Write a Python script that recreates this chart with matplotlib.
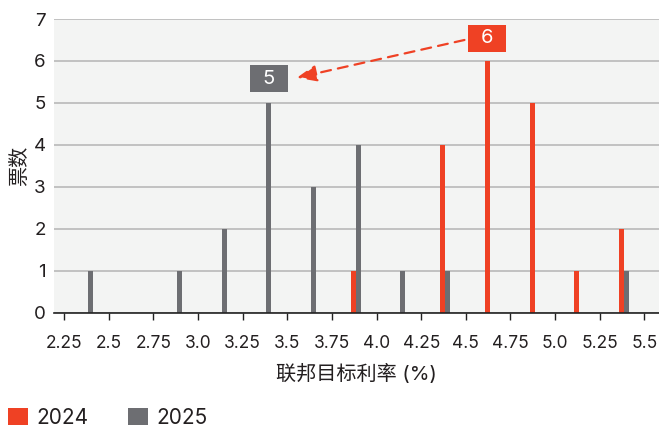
import matplotlib
matplotlib.use("Agg")
import matplotlib.pyplot as plt
from matplotlib.patches import Rectangle, Patch, FancyArrowPatch

plt.rcParams['font.family'] = ['Inter', 'Noto Sans CJK SC', 'DejaVu Sans']

# ---- data ----
bins = [2.375, 2.625, 2.875, 3.125, 3.375, 3.625, 3.875, 4.125, 4.375, 4.625, 4.875, 5.125, 5.375]
votes_2024 = [0, 0, 0, 0, 0, 0, 1, 0, 4, 6, 5, 1, 2]
votes_2025 = [1, 0, 1, 2, 5, 3, 4, 1, 1, 0, 0, 0, 1]
series_labels = ["2024", "2025"]
xtick_values = [2.25, 2.5, 2.75, 3.0, 3.25, 3.5, 3.75, 4.0, 4.25, 4.5, 4.75, 5.0, 5.25, 5.5]
xtick_labels = ["2.25", "2.5", "2.75", "3.0", "3.25", "3.5", "3.75", "4.0", "4.25", "4.5", "4.75", "5.0", "5.25", "5.5"]
ytick_values = [0, 1, 2, 3, 4, 5, 6, 7]
xlabel = "联邦目标利率 (%)"
ylabel = "票数"

RED = "#EF4124"
GRAY = "#6D6E72"
BG = "#F3F4F3"
GRID = "#BDBDBD"
TXT = "#231F20"

W, H = 659, 428
fig = plt.figure(figsize=(W / 100, H / 100), dpi=100)
ax = fig.add_axes([54 / W, 1 - 312.7 / H, (659 - 54) / W, (312.7 - 19) / H])
ax.set_facecolor(BG)

bw = 0.028
off_r = -0.004
off_g = 0.022
x_r = [b + off_r for b in bins]
x_g = [b + off_g for b in bins]
ax.bar(x_r, votes_2024, width=bw, color=RED, zorder=3, linewidth=0)
ax.bar(x_g, votes_2025, width=bw, color=GRAY, zorder=3, linewidth=0)

ax.set_xlim(2.194, 5.5815)
ax.set_ylim(0, 7)
ax.set_xticks(xtick_values)
ax.set_xticklabels(xtick_labels)
ax.set_yticks(ytick_values)
ax.yaxis.grid(True, color=GRID, linewidth=1.3, zorder=0)
ax.set_axisbelow(True)
for s in ["left", "right", "top"]:
    ax.spines[s].set_visible(False)
ax.spines["bottom"].set_color("#222222")
ax.spines["bottom"].set_linewidth(1.2)
ax.spines["bottom"].set_zorder(4)
ax.tick_params(axis="x", length=5, width=1, color="#222222", direction="out",
               pad=11, labelsize=12.5, labelcolor=TXT)
ax.tick_params(axis="y", length=0, pad=6, labelsize=13.5, labelcolor=TXT)
ax.set_xlabel(xlabel, fontsize=14.5, color=TXT, labelpad=9)
ax.set_ylabel(ylabel, fontsize=14.5, color=TXT, labelpad=3)

# ---- annotation boxes ----
px_x = 178.6  # pixels per x unit
px_y = 41.96  # pixels per y unit
bwid = 38 / px_x
bhei = 27 / px_y
i6 = votes_2024.index(max(votes_2024))
i5 = votes_2025.index(max(votes_2025))
c6 = (x_r[i6], votes_2024[i6] + 0.54)
c5 = (x_g[i5], votes_2025[i5] + 0.57)
for (cx, cy), col, val in [(c6, RED, votes_2024[i6]), (c5, GRAY, votes_2025[i5])]:
    ax.add_patch(Rectangle((cx - bwid / 2, cy - bhei / 2), bwid, bhei,
                           facecolor=col, edgecolor="none", zorder=5))
    ax.text(cx, cy, str(val), color="white", fontsize=14.5, ha="center",
            va="center", zorder=6)

tail = (c6[0] - bwid / 2 - 4 / px_x, c6[1] - 0.04)
tip = (c5[0] + bwid / 2 + 9 / px_x, c5[1] + 0.03)
arr = FancyArrowPatch(tail, tip, arrowstyle="-|>,head_length=0.6,head_width=0.25",
                      mutation_scale=20, color=RED, linewidth=1.6,
                      linestyle=(0, (4.5, 3.2)), shrinkA=0, shrinkB=0, zorder=5)
ax.add_patch(arr)

# ---- legend ----
handles = [Patch(facecolor=RED, edgecolor="none"), Patch(facecolor=GRAY, edgecolor="none")]
fig.legend(handles, series_labels, loc="lower left", bbox_to_anchor=(8 / W, 0.0),
           ncol=2, frameon=False, fontsize=15, handlelength=0.95, handleheight=0.9,
           handletextpad=0.4, columnspacing=1.9, borderpad=0.0, borderaxespad=0.0,
           labelcolor=TXT)

fig.savefig("out.png", dpi=100)
